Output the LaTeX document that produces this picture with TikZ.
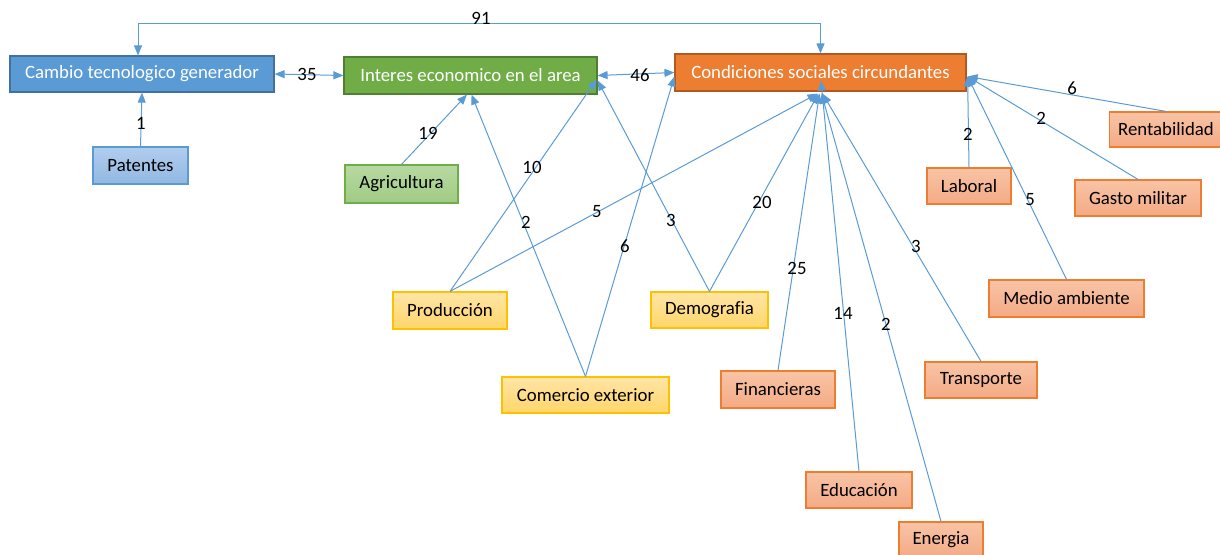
\documentclass[tikz,border=0pt]{standalone}
\usepackage{fontspec}
\setmainfont[Ligatures=NoCommon]{Carlito}
\usetikzlibrary{arrows.meta,calc}

\definecolor{linkblue}{HTML}{5B9BD5}
\definecolor{blueedge}{HTML}{41719C}
\definecolor{greenfill}{HTML}{70AD47}
\definecolor{greenedge}{HTML}{507E32}
\definecolor{orangefill}{HTML}{ED7D31}
\definecolor{orangeedge}{HTML}{AE5A21}
\definecolor{paleblueA}{HTML}{B0CDEE}
\definecolor{paleblueB}{HTML}{92B8E2}
\definecolor{palegreenA}{HTML}{B7D9A2}
\definecolor{palegreenB}{HTML}{A0CB84}
\definecolor{yellowA}{HTML}{FFE5A6}
\definecolor{yellowB}{HTML}{FFD66A}
\definecolor{yellowedge}{HTML}{FFC000}
\definecolor{salmonA}{HTML}{F8C4A6}
\definecolor{salmonB}{HTML}{F4AA84}

\tikzset{
  box/.style={rectangle, inner sep=0pt, line width=1.2pt,
              font=\fontsize{18.8}{21}\selectfont},
  mainbox/.style={box, text=white},
  subbox/.style={box, text=black},
  bluemain/.style={mainbox, fill=linkblue, draw=blueedge},
  greenmain/.style={mainbox, fill=greenfill, draw=greenedge},
  orangemain/.style={mainbox, fill=orangefill, draw=orangeedge},
  bluesub/.style={subbox, top color=paleblueA, bottom color=paleblueB, draw=linkblue},
  greensub/.style={subbox, top color=palegreenA, bottom color=palegreenB, draw=greenfill},
  yellowsub/.style={subbox, top color=yellowA, bottom color=yellowB, draw=yellowedge},
  salmonsub/.style={subbox, top color=salmonA, bottom color=salmonB, draw=orangefill},
  link/.style={draw=linkblue, line width=1pt,
               -{Triangle[length=10pt,width=8pt]}},
  twoway/.style={draw=linkblue, line width=1pt,
               {Triangle[length=10pt,width=8pt]}-{Triangle[length=10pt,width=8pt]}},
  weight/.style={inner sep=0pt, text=black, font=\fontsize{18.8}{21}\selectfont},
}

\begin{document}
\begin{tikzpicture}[x=1pt,y=-1pt]
\useasboundingbox (0,0) rectangle (1220,554);

% main factors
\node[bluemain, minimum width=264pt, minimum height=36pt] (cambio) at (142,74) {Cambio tecnologico generador};
\node[greenmain, minimum width=253pt, minimum height=37pt] (interes) at (470.5,75.5) {Interes economico en el area};
\node[orangemain, minimum width=291pt, minimum height=37pt] (cond) at (820.5,72.5) {Condiciones sociales circundantes};

% contributing factors
\node[bluesub, minimum width=95pt, minimum height=37pt] (patentes) at (140.5,165.5) {Patentes};
\node[greensub, minimum width=113pt, minimum height=38pt] (agri) at (401.5,184) {Agricultura};
\node[yellowsub, minimum width=114pt, minimum height=37pt] (prod) at (450,310.5) {Producción};
\node[yellowsub, minimum width=117pt, minimum height=36pt] (demo) at (709.5,310) {Demografia};
\node[yellowsub, minimum width=167pt, minimum height=36pt] (comercio) at (585.5,395) {Comercio exterior};
\node[salmonsub, minimum width=114pt, minimum height=37pt] (finan) at (778,389.5) {Financieras};
\node[salmonsub, minimum width=106pt, minimum height=36pt] (edu) at (859,490) {Educación};
\node[salmonsub, minimum width=84pt, minimum height=36pt] (energia) at (941,540) {Energia};
\node[salmonsub, minimum width=112pt, minimum height=36pt] (transp) at (981,380) {Transporte};
\node[salmonsub, minimum width=155pt, minimum height=37pt] (medio) at (1066.5,298.5) {Medio ambiente};
\node[salmonsub, minimum width=84pt, minimum height=36pt] (laboral) at (969,186) {Laboral};
\node[salmonsub, minimum width=126pt, minimum height=36pt] (gasto) at (1138,198) {Gasto militar};
\node[salmonsub, minimum width=113pt, minimum height=35pt] (rent) at (1166,129.5) {Rentabilidad};

% links between the main factors
\draw[twoway] ([xshift=-4pt]cambio.north) -- ++(0,-32) -| (cond.north);
\draw[twoway] (cambio.east) -- (interes.west);
\draw[twoway] (interes.east) -- (cond.west);

% links into the main factors
\draw[link] (patentes.north) -- (cambio.south);
\draw[link] (agri.north) -- ($(interes.south)+(-3.5,0)$);
\draw[link] (comercio.north) -- ($(interes.south)+(1,0)$);
\draw[link] (prod.north) -- ($(interes.east)+(-1,4)$);
\draw[link] (demo.north) -- ($(interes.east)+(0,5)$);
\draw[link] (comercio.north) -- ($(cond.west)+(0,4)$);
\draw[link] (prod.north) -- ($(cond.south)+(-3,2)$);
\draw[link] (demo.north) -- ($(cond.south)+(-2,2)$);
\draw[link] (finan.north) -- ($(cond.south)+(-1,2)$);
\draw[link] (edu.north) -- ($(cond.south)+(0.5,-11)$);
\draw[link] (energia.north) -- ($(cond.south)+(1,2)$);
\draw[link] (transp.north) -- ($(cond.south)+(2,2)$);
\draw[link] (laboral.north) -- ($(cond.east)+(1,4)$);
\draw[link] (medio.north) -- ($(cond.east)+(1,4)$);
\draw[link] (gasto.north) -- ($(cond.east)+(1,4)$);
\draw[link] (rent.north) -- ($(cond.east)+(1,4)$);

% link weights
\node[weight] (w91) at (481,18.5) {91};
\node[weight] (w35) at (307,74) {35};
\node[weight] (w46) at (640,75) {46};
\node[weight] (w1) at (141,123) {1};
\node[weight] (w19) at (428,133) {19};
\node[weight] (w10) at (532,167) {10};
\node[weight] (w2a) at (526,222) {2};
\node[weight] (w5) at (597,212) {5};
\node[weight] (w6a) at (625,246) {6};
\node[weight] (w3a) at (671,220) {3};
\node[weight] (w20) at (762,202) {20};
\node[weight] (w25) at (797,268) {25};
\node[weight] (w14) at (843,313) {14};
\node[weight] (w2b) at (886,324) {2};
\node[weight] (w3b) at (916,246) {3};
\node[weight] (w2c) at (968,134) {2};
\node[weight] (w5b) at (1030,200) {5};
\node[weight] (w2d) at (1041,118) {2};
\node[weight] (w6b) at (1072,88) {6};
\end{tikzpicture}
\end{document}
